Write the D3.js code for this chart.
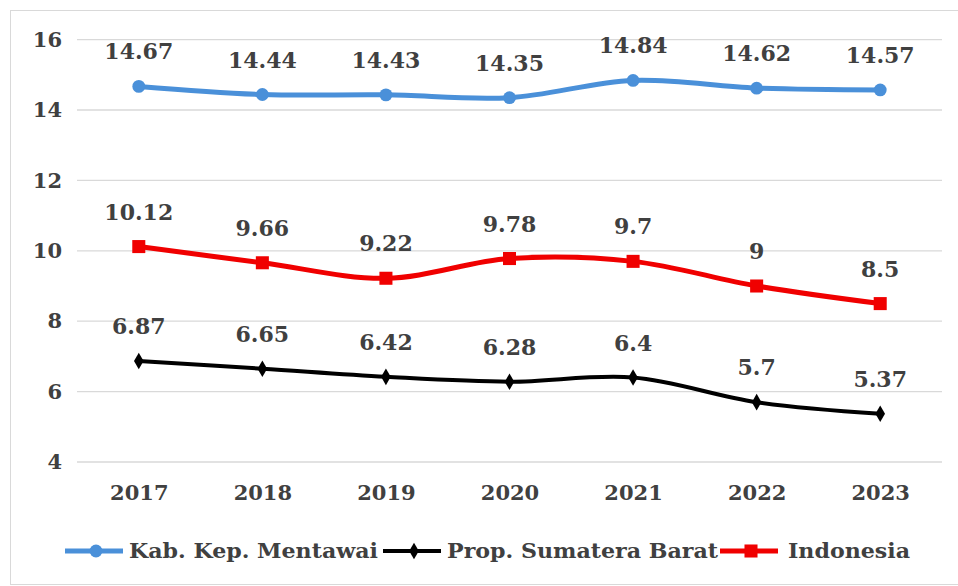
<!DOCTYPE html>
<html><head><meta charset="utf-8">
<script src="https://cdn.jsdelivr.net/npm/d3@7"></script>
<style>body{margin:0;background:#fff}svg{display:block}</style>
</head><body>
<script>
const years = ["2017","2018","2019","2020","2021","2022","2023"];
const mentawai = [14.67,14.44,14.43,14.35,14.84,14.62,14.57];
const sumbar = [6.87,6.65,6.42,6.28,6.4,5.7,5.37];
const indonesia = [10.12,9.66,9.22,9.78,9.7,9,8.5];
const yTicks = [4,6,8,10,12,14,16];
const seriesNames = ["Kab. Kep. Mentawai","Prop. Sumatera Barat","Indonesia"];

const W=958,H=586;
const font="'DejaVu Serif', serif";
const txt="#404040";
const svg=d3.select("body").append("svg").attr("width",W).attr("height",H);
svg.append("rect").attr("x",10.5).attr("y",10.5).attr("width",W-10).attr("height",574).attr("fill","#fff").attr("stroke","#d9d9d9");

const x=d3.scalePoint().domain(years).range([77,942]).padding(0.5);
const y=d3.scaleLinear().domain([4,16]).range([462,39.6]);

svg.append("g").selectAll("line").data(yTicks).join("line")
 .attr("x1",77).attr("x2",942).attr("y1",d=>y(d)).attr("y2",d=>y(d))
 .attr("stroke","#d9d9d9").attr("stroke-width",1.3);

const yAxis=svg.append("g").attr("transform","translate(62,0)")
 .call(d3.axisLeft(y).tickValues(yTicks).tickSize(0).tickPadding(0));
yAxis.select(".domain").remove();
yAxis.selectAll("text").attr("font-family",font).attr("font-weight","bold").attr("font-size",21).attr("fill",txt);

const xAxis=svg.append("g").attr("transform","translate(0,485)")
 .call(d3.axisBottom(x).tickSize(0).tickPadding(0));
xAxis.select(".domain").remove();
xAxis.selectAll("text").attr("font-family",font).attr("font-weight","bold").attr("font-size",21).attr("fill",txt).attr("dy","0.71em");

const series=[
 {name:seriesNames[0],vals:mentawai,color:"#4a90d9",w:5,marker:"circle",size:130},
 {name:seriesNames[1],vals:sumbar,color:"#000",w:4,marker:"diamond",size:80},
 {name:seriesNames[2],vals:indonesia,color:"#f00000",w:5,marker:"square",size:170}
];
const sym={circle:d3.symbolCircle,diamond:d3.symbolDiamond,square:d3.symbolSquare};
const line=d3.line().x((d,i)=>x(years[i])).y(d=>y(d)).curve(d3.curveCatmullRom.alpha(0.5));

series.forEach(s=>{
 const g=svg.append("g");
 g.append("path").attr("d",line(s.vals)).attr("fill","none").attr("stroke",s.color).attr("stroke-width",s.w);
 g.selectAll("path.m").data(s.vals).join("path").attr("class","m")
  .attr("transform",(d,i)=>`translate(${x(years[i])},${y(d)})`)
  .attr("d",d3.symbol(sym[s.marker],s.size)).attr("fill",s.color);
 g.selectAll("text").data(s.vals).join("text")
  .attr("x",(d,i)=>x(years[i])).attr("y",d=>y(d)-27)
  .attr("text-anchor","middle").attr("font-family",font).attr("font-weight","bold")
  .attr("font-size",22).attr("fill",txt).text(d=>d);
});

// legend
const legX=[65,383,720];
const legLen=[249,271,122];
const leg=svg.append("g");
series.forEach((s,i)=>{
 const g=leg.append("g").attr("transform",`translate(${legX[i]},551)`);
 g.append("line").attr("x1",0).attr("x2",58).attr("stroke",s.color).attr("stroke-width",s.w);
 g.append("path").attr("transform","translate(31,0)").attr("d",d3.symbol(sym[s.marker],s.size)).attr("fill",s.color);
 g.append("text").attr("x",i===2?68:64).attr("dy","0.35em").attr("font-family",font).attr("font-weight","bold")
  .attr("font-size",20).attr("fill",txt)
  .attr("textLength",legLen[i]).attr("lengthAdjust","spacingAndGlyphs").text(s.name);
});
</script>
</body></html>
